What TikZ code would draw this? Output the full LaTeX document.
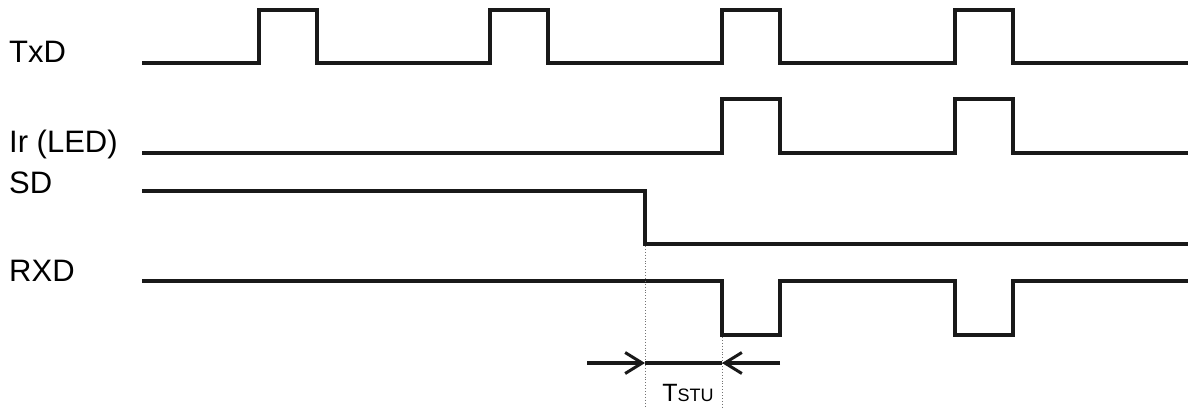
\documentclass[tikz,border=0pt]{standalone}
\usepackage{fontspec}
\setmainfont{Liberation Sans}
\usetikzlibrary{arrows.meta}
\begin{document}
\begin{tikzpicture}[x=1pt,y=-1pt,
  sig/.style={line width=3.6pt,line join=miter,color=black!90},
  lbl/.style={anchor=base west,inner sep=0pt,font=\fontsize{31}{33}\selectfont},
  guide/.style={line width=0.9pt,dotted,color=black!55},
  dim/.style={line width=3.4pt,color=black!90},
  barb/.style={dim,-{Straight Barb[length=17pt,width=21pt,line width=3pt]}}]
\useasboundingbox (0,0) rectangle (1188,408);
% labels
\node[lbl] (ltxd) at (9,62) {TxD};
\node[lbl] (lir) at (9,152) {Ir (LED)};
\node[lbl] (lsd) at (9,193) {SD};
\node[lbl] (lrxd) at (9,281) {RXD};
% TxD
\draw[sig] (142,63) -- (259,63) -- (259,10) -- (317,10) -- (317,63)
  -- (490,63) -- (490,10) -- (548,10) -- (548,63)
  -- (722,63) -- (722,10) -- (780,10) -- (780,63)
  -- (955,63) -- (955,10) -- (1013,10) -- (1013,63) -- (1188,63);
% Ir (LED)
\draw[sig] (142,153) -- (722,153) -- (722,99) -- (780,99) -- (780,153)
  -- (955,153) -- (955,99) -- (1013,99) -- (1013,153) -- (1188,153);
% SD
\draw[sig] (142,191) -- (645,191) -- (645,244) -- (1188,244);
% RXD
\draw[sig] (142,281) -- (722,281) -- (722,335) -- (780,335) -- (780,281)
  -- (955,281) -- (955,335) -- (1013,335) -- (1013,281) -- (1188,281);
% guides
\coordinate (g1t) at (645,246);
\coordinate (g1b) at (645,408);
\coordinate (g2t) at (722,337);
\coordinate (g2b) at (722,408);
\draw[guide] (g1t) -- (g1b);
\draw[guide] (g2t) -- (g2b);
% dimension
\coordinate (dl) at (587,363);
\coordinate (da) at (645,363);
\coordinate (db) at (722,363);
\coordinate (dr) at (780,363);
\draw[dim] (da) -- (db);
\draw[barb] (dl) -- (da);
\draw[barb] (dr) -- (db);
\node[anchor=base,inner sep=0pt] (tstu) at (688,401)
  {\fontsize{25}{27}\selectfont T\fontsize{18}{20}\selectfont STU};
\end{tikzpicture}
\end{document}
